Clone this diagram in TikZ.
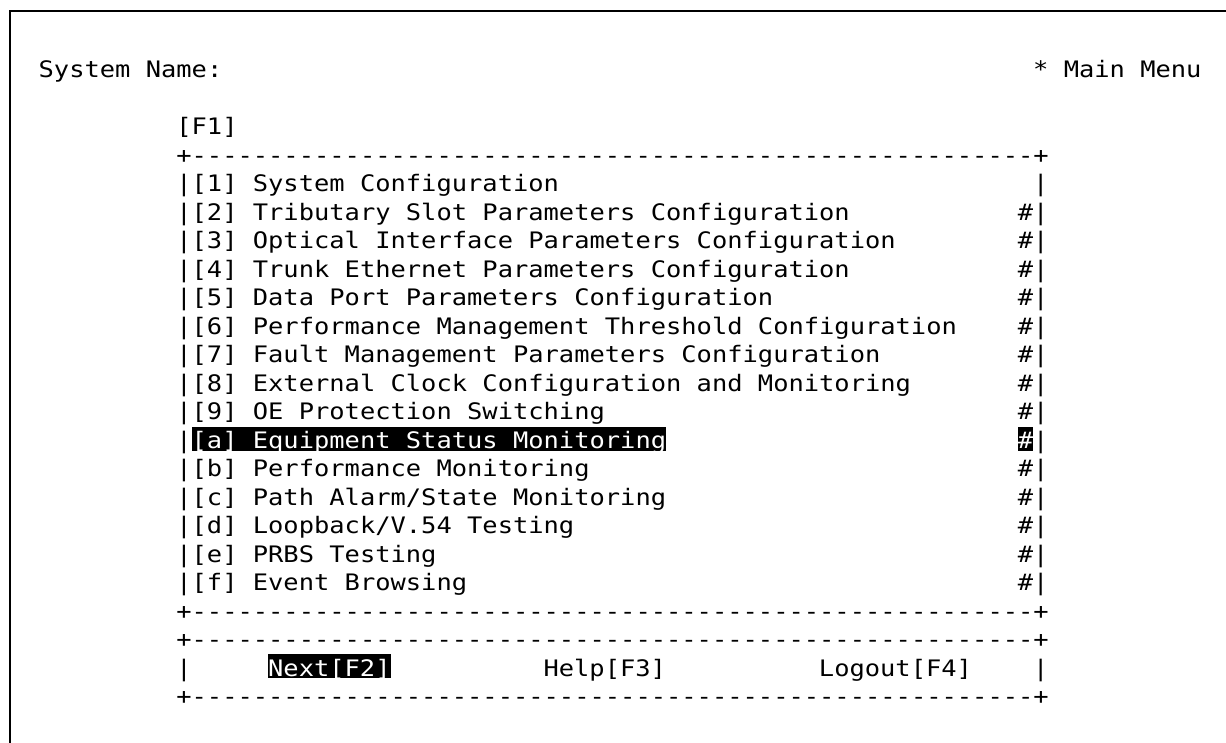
\documentclass[tikz,border=0pt]{standalone}
\usepackage{fontspec}
\newfontfamily\termfont{DejaVu Sans Mono}[FakeStretch=1.12]
\newcommand{\dashrow}{+-------------------------------------------------------+}
\begin{document}
\begin{tikzpicture}[x=1pt,y=1pt,
  txt/.style={font=\termfont\fontsize{22.7}{28}\selectfont, inner sep=0pt, outer sep=0pt, anchor=base west},
  inv/.style={txt, text=white},
  hl/.style={fill=black, draw=none},
  frame/.style={line width=2.6pt, line cap=rect}]
\useasboundingbox (0,0) rectangle (1226,-742);
\fill[white] (0,0) rectangle (1226,-742);
% frame
\coordinate (fb) at (10,-742);
\coordinate (ftl) at (10,-11);
\coordinate (ftr) at (1226,-11);
\draw[frame] (fb) -- (ftl) -- (ftr);
% header
\node[txt] (sysname) at ({176.35+15.3*(-9)},-77.5) {System Name:};
\node[txt] (mainmenu) at ({176.35+15.3*56},-77.5) {* Main Menu};
\node[txt] (f1) at (176.35,-134.5) {[F1]};
\node[txt] (topline) at (176.35,-163) {\dashrow};
% highlight boxes
\fill[hl] ({176.35+15.3*1},-426.5) rectangle ({176.35+15.3*32},-450.5);
\fill[hl] ({176.35+15.3*55},-426.5) rectangle ({176.35+15.3*56},-450.5);
\fill[hl] ({176.35+15.3*6},-654) rectangle ({176.35+15.3*14},-678);
% menu rows
\node[txt] (r0) at (176.35,-191.5) {|[1] System Configuration};
\node[txt] (e0) at ({176.35+15.3*56},-191.5) {|};
\foreach \t [count=\i from 1] in {
  {[2] Tributary Slot Parameters Configuration},
  {[3] Optical Interface Parameters Configuration},
  {[4] Trunk Ethernet Parameters Configuration},
  {[5] Data Port Parameters Configuration},
  {[6] Performance Management Threshold Configuration},
  {[7] Fault Management Parameters Configuration},
  {[8] External Clock Configuration and Monitoring},
  {[9] OE Protection Switching}}{
  \node[txt] (rl\i) at (176.35,{-191.5-28.5*\i}) {|};
  \node[txt] (r\i) at ({176.35+15.3},{-191.5-28.5*\i}) {\t};
  \node[txt] (h\i) at ({176.35+15.3*55},{-191.5-28.5*\i}) {\#|};
}
\node[txt] (rla) at (176.35,{-191.5-28.5*9}) {|};
\node[inv] (ra) at ({176.35+15.3},{-191.5-28.5*9}) {[a] Equipment Status Monitoring};
\node[inv] (ha) at ({176.35+15.3*55},{-191.5-28.5*9}) {\#};
\node[txt] (hb) at ({176.35+15.3*56},{-191.5-28.5*9}) {|};
\foreach \t [count=\i from 10] in {
  {[b] Performance Monitoring},
  {[c] Path Alarm/State Monitoring},
  {[d] Loopback/V.54 Testing},
  {[e] PRBS Testing},
  {[f] Event Browsing}}{
  \node[txt] (rl\i) at (176.35,{-191.5-28.5*\i}) {|};
  \node[txt] (r\i) at ({176.35+15.3},{-191.5-28.5*\i}) {\t};
  \node[txt] (h\i) at ({176.35+15.3*55},{-191.5-28.5*\i}) {\#|};
}
\node[txt] (midline1) at (176.35,-619) {\dashrow};
\node[txt] (midline2) at (176.35,-647.5) {\dashrow};
\node[txt] (bl) at (176.35,-676) {|};
\node[inv] (next) at ({176.35+15.3*6},-676) {Next[F2]};
\node[txt] (help) at ({176.35+15.3*24},-676) {Help[F3]};
\node[txt] (logout) at ({176.35+15.3*42},-676) {Logout[F4]};
\node[txt] (br) at ({176.35+15.3*56},-676) {|};
\node[txt] (botline) at (176.35,-704.5) {\dashrow};
\end{tikzpicture}
\end{document}
